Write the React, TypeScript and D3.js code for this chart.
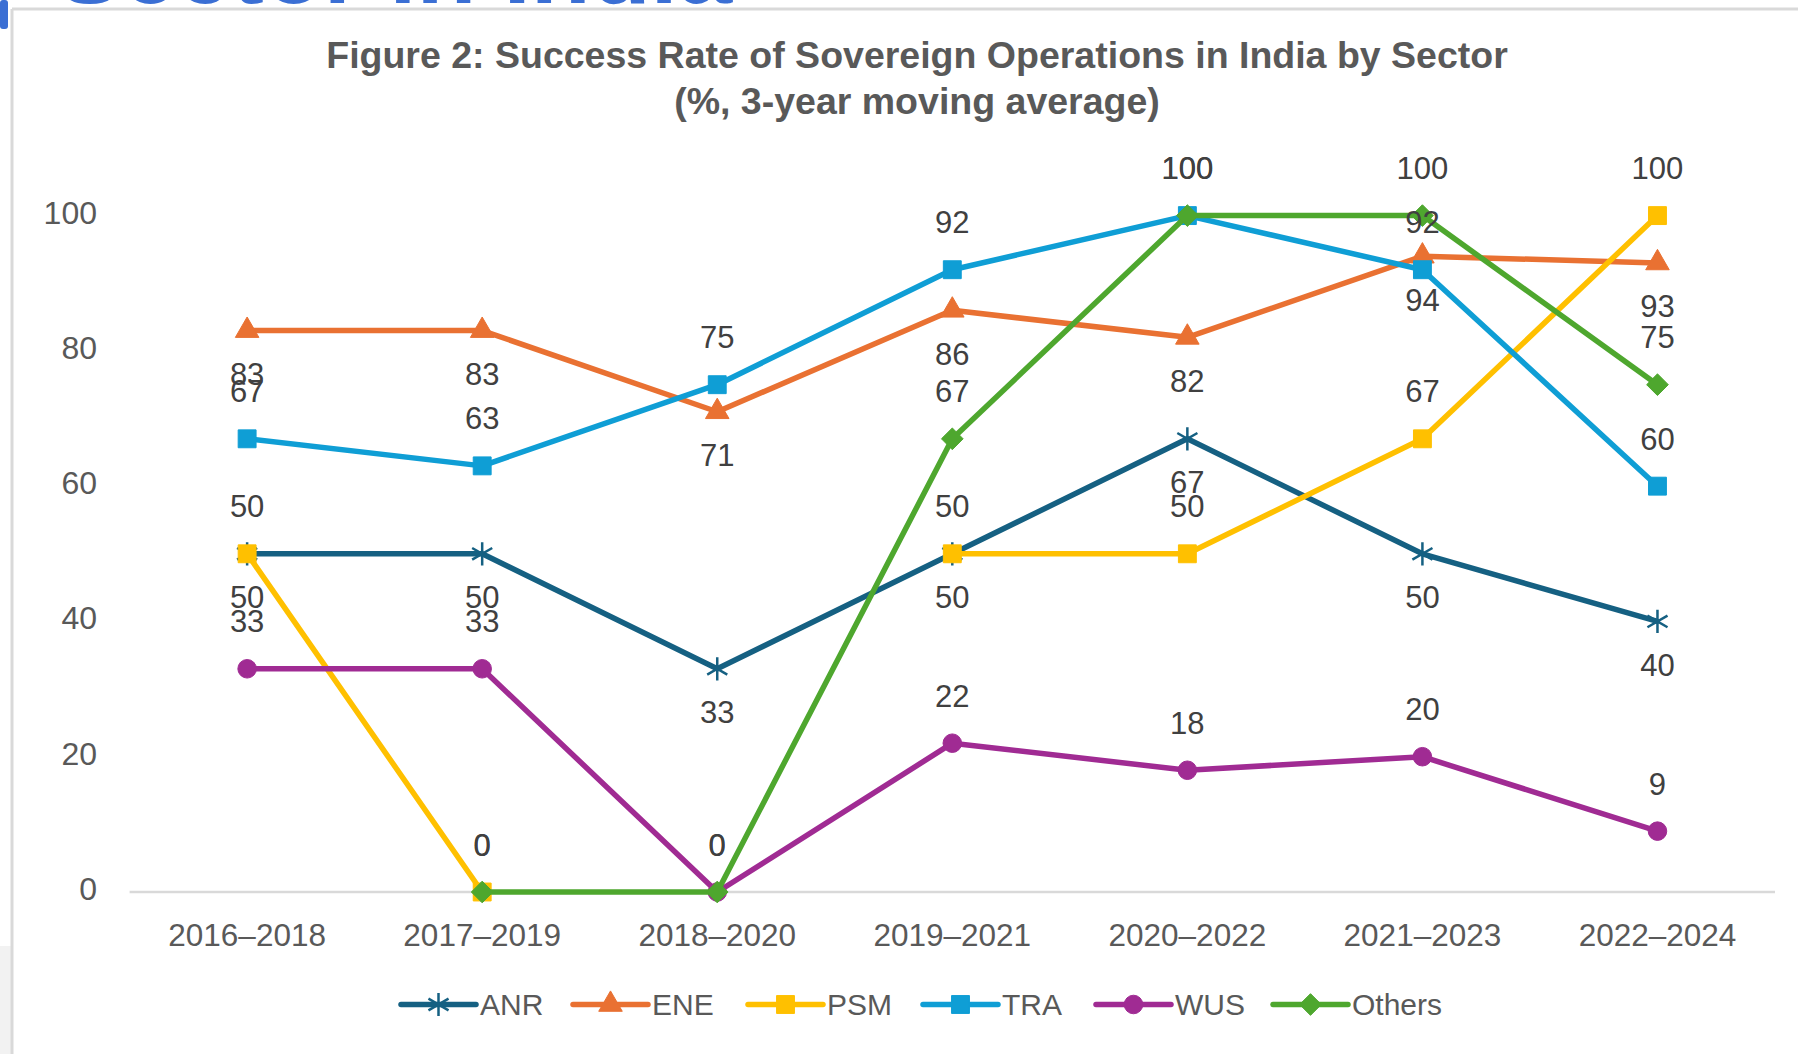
import React from "react";
import * as d3 from "d3";

const categories = ["2016–2018", "2017–2019", "2018–2020", "2019–2021", "2020–2022", "2021–2023", "2022–2024"];
const anrValues: (number | null)[] = [50, 50, 33, 50, 67, 50, 40];
const eneValues: (number | null)[] = [83, 83, 71, 86, 82, 94, 93];
const psmValues: (number | null)[] = [50, 0, null, 50, 50, 67, 100];
const traValues: (number | null)[] = [67, 63, 75, 92, 100, 92, 60];
const wusValues: (number | null)[] = [33, 33, 0, 22, 18, 20, 9];
const othersValues: (number | null)[] = [null, 0, 0, 67, 100, 100, 75];
const yTicks = [0, 20, 40, 60, 80, 100];
const titleLines = ["Figure 2: Success Rate of Sovereign Operations in India by Sector", "(%, 3-year moving average)"];

type Series = { name: string; values: (number | null)[]; color: string; symbol: string; labelBelow: boolean };

const series: Series[] = [
  { name: "ANR", values: anrValues, color: "#156082", symbol: "asterisk", labelBelow: true },
  { name: "ENE", values: eneValues, color: "#E97132", symbol: "triangle", labelBelow: true },
  { name: "PSM", values: psmValues, color: "#FFC000", symbol: "square", labelBelow: false },
  { name: "TRA", values: traValues, color: "#0F9ED5", symbol: "square", labelBelow: false },
  { name: "WUS", values: wusValues, color: "#A02B93", symbol: "circle", labelBelow: false },
  { name: "Others", values: othersValues, color: "#4EA72E", symbol: "diamond", labelBelow: false },
];

const FONT = "'Liberation Sans', Arial, sans-serif";

function markerPath(kind: string): string {
  const map: Record<string, [any, number]> = {
    asterisk: [d3.symbolAsterisk, 380],
    triangle: [d3.symbolTriangle, 240],
    square: [d3.symbolSquare, 320],
    circle: [d3.symbolCircle, 270],
    diamond: [d3.symbolDiamond2, 300],
  };
  const [t, s] = map[kind];
  return d3.symbol().type(t).size(s)() || "";
}

function Marker({ kind, color, x, y }: { kind: string; color: string; x: number; y: number }) {
  const isStroke = kind === "asterisk";
  return (
    <path
      d={markerPath(kind)}
      transform={`translate(${x},${y})`}
      fill={isStroke ? "none" : color}
      stroke={color}
      strokeWidth={isStroke ? 2.5 : 1}
    />
  );
}

export default function App() {
  const W = 1798;
  const H = 1054;
  const plotLeft = 129.6;
  const plotRight = 1775;
  const x = d3.scalePoint<string>().domain(categories).range([plotLeft, plotRight]).padding(0.5);
  const y = d3.scaleLinear().domain([0, 100]).range([892, 215.6]);

  const lineGen = d3
    .line<number | null>()
    .defined((d) => d !== null)
    .x((_, i) => x(categories[i]) as number)
    .y((d) => y(d as number));

  const legendX = [401, 573, 748, 923, 1096, 1273];
  const legendY = 1004.5;

  return (
    <svg width={W} height={H} style={{ position: "absolute", left: 0, top: 0, background: "#fff" }}>
      <rect x={0} y={0} width={W} height={H} fill="#ffffff" />
      {/* cropped heading from the page above */}
      <text x={57} y={3} fontFamily={FONT} fontWeight="bold" fontSize={98} fill="#3b6fd4">
        Sector in India
      </text>
      <rect x={0} y={0} width={8} height={29} rx={3} fill="#3b6fd4" />
      <rect x={0} y={946} width={11} height={H - 946} fill="#f2f2f2" />
      {/* chart frame */}
      <line x1={12} y1={9} x2={W} y2={9} stroke="#d9d9d9" strokeWidth={3} />
      <line x1={12} y1={9} x2={12} y2={H} stroke="#d9d9d9" strokeWidth={3} />

      {/* title */}
      {titleLines.map((t, i) => (
        <text
          key={i}
          x={917}
          y={55 + i * 46}
          textAnchor="middle"
          dominantBaseline="central"
          fontFamily={FONT}
          fontWeight="bold"
          fontSize={37.5}
          fill="#595959"
        >
          {t}
        </text>
      ))}

      {/* y tick labels */}
      {yTicks.map((t) => (
        <text
          key={t}
          x={97}
          y={y(t) - 3}
          textAnchor="end"
          dominantBaseline="central"
          fontFamily={FONT}
          fontSize={32}
          fill="#595959"
        >
          {t}
        </text>
      ))}

      {/* x axis */}
      <line x1={plotLeft} x2={plotRight} y1={y(0)} y2={y(0)} stroke="#d9d9d9" strokeWidth={2.5} />
      {categories.map((c) => (
        <text
          key={c}
          x={x(c)}
          y={934.6}
          textAnchor="middle"
          dominantBaseline="central"
          fontFamily={FONT}
          fontSize={31.5}
          fill="#595959"
        >
          {c}
        </text>
      ))}

      {/* lines and markers */}
      {series.map((s) => (
        <g key={s.name}>
          <path d={lineGen(s.values) || ""} fill="none" stroke={s.color} strokeWidth={5.5} strokeLinejoin="round" />
          {s.values.map((v, i) =>
            v === null ? null : (
              <Marker key={i} kind={s.symbol} color={s.color} x={x(categories[i]) as number} y={y(v)} />
            )
          )}
        </g>
      ))}

      {/* data labels */}
      {series.map((s) => (
        <g key={s.name + "-lbl"}>
          {s.values.map((v, i) =>
            v === null ? null : (
              <text
                key={i}
                x={x(categories[i]) as number}
                y={y(v) + (s.labelBelow ? 44 : -47)}
                textAnchor="middle"
                dominantBaseline="central"
                fontFamily={FONT}
                fontSize={31}
                fill="#404040"
              >
                {v}
              </text>
            )
          )}
        </g>
      ))}

      {/* legend */}
      {series.map((s, i) => {
        const lx = legendX[i];
        return (
          <g key={s.name + "-leg"}>
            <line x1={lx} x2={lx + 75} y1={legendY} y2={legendY} stroke={s.color} strokeWidth={5.5} strokeLinecap="round" />
            <Marker kind={s.symbol} color={s.color} x={lx + 37.5} y={legendY} />
            <text
              x={lx + 79}
              y={legendY}
              dominantBaseline="central"
              fontFamily={FONT}
              fontSize={30}
              fill="#595959"
            >
              {s.name}
            </text>
          </g>
        );
      })}
    </svg>
  );
}
